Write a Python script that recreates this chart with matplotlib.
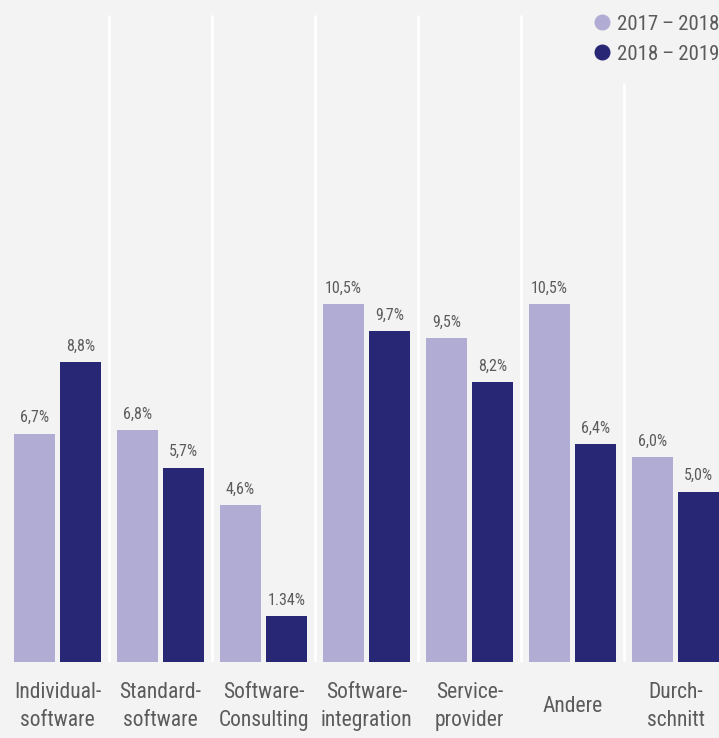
import matplotlib
matplotlib.use("Agg")
import matplotlib.pyplot as plt
from matplotlib import font_manager
from matplotlib.lines import Line2D

# Data
categories = ["Individual-\nsoftware", "Standard-\nsoftware", "Software-\nConsulting",
              "Software-\nintegration", "Service-\nprovider", "Andere", "Durch-\nschnitt"]
series_names = ["2017\u2009\u2013\u20092018", "2018\u2009\u2013\u20092019"]
values_2017_2018 = [6.7, 6.8, 4.6, 10.5, 9.5, 10.5, 6.0]
values_2018_2019 = [8.8, 5.7, 1.34, 9.7, 8.2, 6.4, 5.0]
labels_2017_2018 = ["6,7%", "6,8%", "4,6%", "10,5%", "9,5%", "10,5%", "6,0%"]
labels_2018_2019 = ["8,8%", "5,7%", "1.34%", "9,7%", "8,2%", "6,4%", "5,0%"]

# Fonts: prefer a condensed sans if present
available = {f.name for f in font_manager.fontManager.ttflist}
family = [f for f in ["Roboto Condensed", "Liberation Sans Narrow", "Roboto", "DejaVu Sans"]
          if f in available]
plt.rcParams["font.family"] = family
condensed = family[0] in ("Roboto Condensed", "Liberation Sans Narrow")

BG = "#f3f3f3"
LIGHT = "#b0acd4"
DARK = "#272775"
TEXT = "#5b5b5b"

cat_size = 15.5 if condensed else 13.5
val_size = 11.5 if condensed else 9.8
leg_size = 15 if condensed else 13.2

W, H = 719, 738
fig = plt.figure(figsize=(W / 100, H / 100), dpi=100, facecolor=BG)

base_px = 662
top_px = 15
px_per_unit = 34.1
ax = fig.add_axes([0, (H - base_px) / H, 1, (base_px - top_px) / H])
ax.set_facecolor(BG)
ymax = (base_px - top_px) / px_per_unit
ax.set_ylim(0, ymax)
ax.set_xlim(-57.5 / 103, len(categories) - 1 + 43.5 / 103)

n = len(categories)
x = list(range(n))
bw = 41 / 103
off = 23 / 103

# Group separators
for i in range(n - 1):
    top = ymax if i < n - 2 else (base_px - 83) / px_per_unit
    ax.plot([i + 0.5, i + 0.5], [0, top], color="white", lw=2, zorder=1,
            solid_capstyle="butt")

b1 = ax.bar([xi - off for xi in x], values_2017_2018, width=bw, color=LIGHT, zorder=2)
b2 = ax.bar([xi + off for xi in x], values_2018_2019, width=bw, color=DARK, zorder=2)

for bars, labs in ((b1, labels_2017_2018), (b2, labels_2018_2019)):
    for rect, lab in zip(bars, labs):
        ax.annotate(lab, (rect.get_x() + rect.get_width() / 2, rect.get_height()),
                    xytext=(0, 8.2), textcoords="offset points",
                    ha="center", va="baseline", fontsize=val_size, color=TEXT)

# Category labels below the baseline
for xi, cat in zip(x, categories):
    ax.annotate(cat, (xi, 0), xytext=(0, -44.5 * 0.72), textcoords="offset points",
                ha="center", va="center", fontsize=cat_size, color=TEXT,
                linespacing=1.45, annotation_clip=False)

for spine in ax.spines.values():
    spine.set_visible(False)
ax.set_xticks([])
ax.set_yticks([])

# Legend
for name, col, ypx in ((series_names[0], LIGHT, 22), (series_names[1], DARK, 52)):
    fig.add_artist(Line2D([602 / W], [1 - ypx / H], marker="o", markersize=10.5,
                          color=col, linestyle="none", transform=fig.transFigure))
    fig.text(617 / W, 1 - ypx / H, name, ha="left", va="center_baseline",
             fontsize=leg_size, color=TEXT)

fig.savefig("out.png", dpi=100, facecolor=BG)
